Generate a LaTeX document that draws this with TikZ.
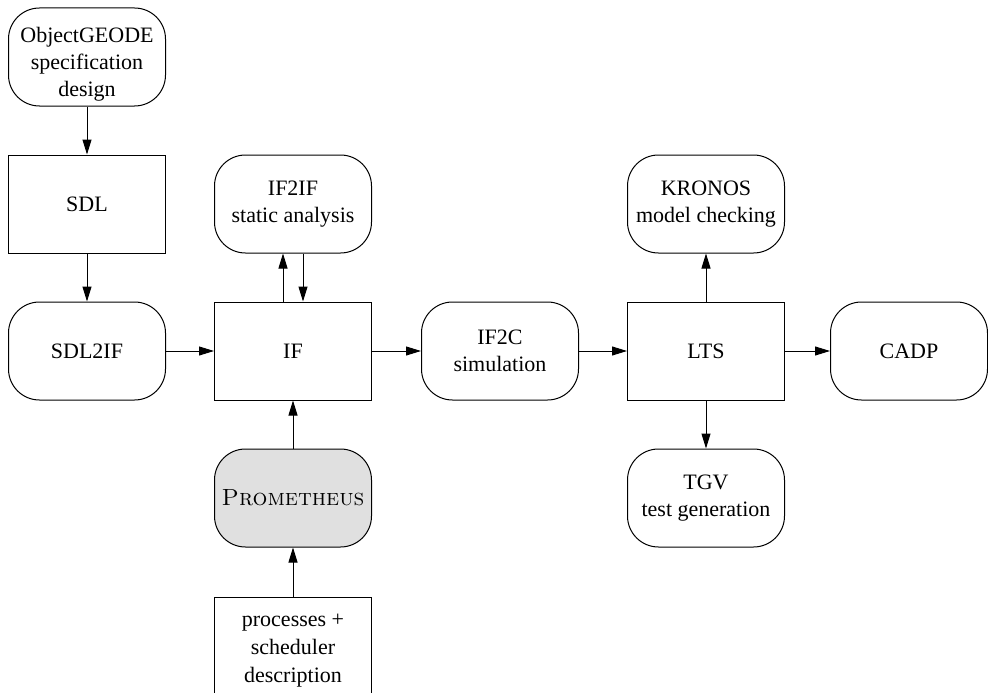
\documentclass[tikz,border=0pt]{standalone}
\usepackage{fontspec}
\newfontfamily\timesfont{Liberation Serif}
\usetikzlibrary{arrows.meta}
\definecolor{promgray}{RGB}{224,224,224}
\tikzset{
  base/.style={draw=black, line width=1pt, minimum width=157pt, minimum height=98pt, inner sep=0pt, align=center, font=\timesfont\fontsize{22}{27.5}\selectfont},
  tool/.style={base, rounded corners=31pt},
  data/.style={base},
  conn/.style={line width=1pt, -{Triangle[length=15pt,width=9pt]}}
}
\begin{document}
\begin{tikzpicture}[x=1pt,y=-1pt]
\useasboundingbox (0,0) rectangle (988,693);
\node[tool] (og) at (87,57) {};
\node[font=\timesfont\fontsize{22}{27}\selectfont, align=center, inner sep=0pt] (ogtext) at (87,64) {ObjectGEODE\\specification\\design};
\node[data] (sdl) at (87,204) {SDL};
\node[tool] (sdl2if) at (87,351) {SDL2IF};
\node[tool] (if2if) at (293,204) {IF2IF\\static analysis};
\node[data] (if) at (293,351) {IF};
\node[tool, fill=promgray, font=\rmfamily\fontsize{23.4}{28}\selectfont] (prom) at (293,498) {\textsc{Prometheus}};
\node[data] (proc) at (293,646) {};
\node[font=\timesfont\fontsize{22}{28}\selectfont, align=center, inner sep=0pt] (proctext) at (293,651) {processes +\\scheduler\\description};
\node[tool] (if2c) at (500,351) {IF2C\\simulation};
\node[data] (lts) at (706,351) {LTS};
\node[tool] (kronos) at (706,204) {KRONOS\\model checking};
\node[tool] (tgv) at (706,498) {TGV\\test generation};
\node[tool] (cadp) at (909,351) {CADP};
\draw[conn] (og) -- (sdl);
\draw[conn] (sdl) -- (sdl2if);
\draw[conn] (sdl2if) -- (if);
\draw[conn] ([xshift=-10pt]if.north) -- ([xshift=-10pt]if2if.south);
\draw[conn] ([xshift=10pt]if2if.south) -- ([xshift=10pt]if.north);
\draw[conn] (if) -- (if2c);
\draw[conn] (prom) -- (if);
\draw[conn] (proc) -- (prom);
\draw[conn] (if2c) -- (lts);
\draw[conn] (lts) -- (kronos);
\draw[conn] (lts) -- (cadp);
\draw[conn] (lts) -- (tgv);
\end{tikzpicture}
\end{document}
